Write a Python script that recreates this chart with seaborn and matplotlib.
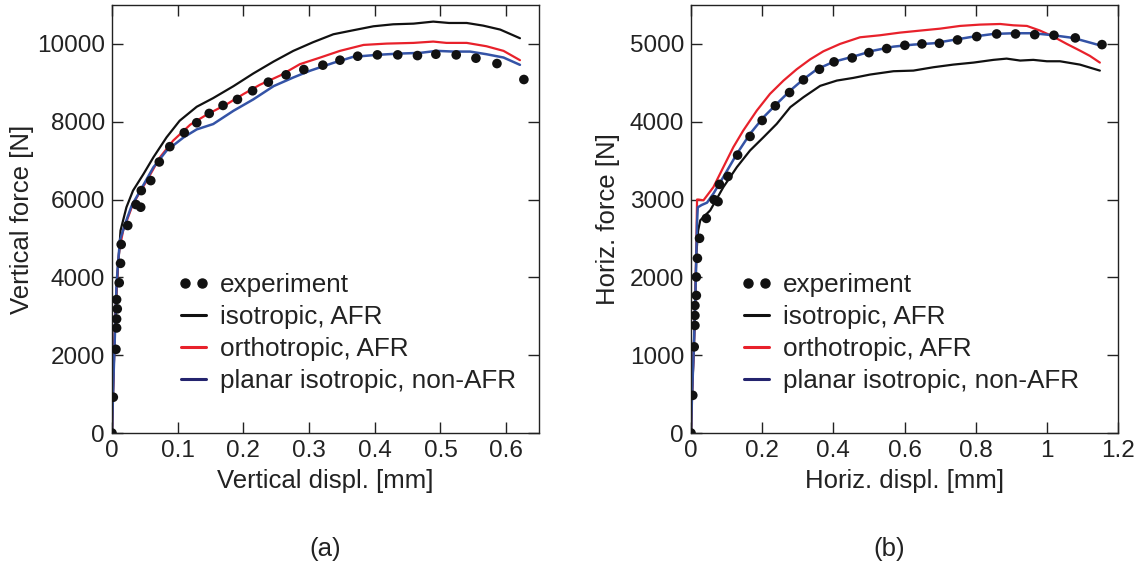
import numpy as np
import pandas as pd
import matplotlib
matplotlib.use("Agg")
import matplotlib.pyplot as plt
from matplotlib.lines import Line2D
from matplotlib.legend_handler import HandlerLine2D
import seaborn as sns

# ---------------- data: panel (a) vertical ----------------
a_exp_x = [0.0, 0.002, 0.006, 0.007, 0.007, 0.008, 0.007, 0.011, 0.013, 0.014, 0.024,
           0.0365, 0.0437, 0.0446, 0.059, 0.072, 0.088, 0.110, 0.129, 0.148, 0.169,
           0.191, 0.214, 0.238, 0.265, 0.292, 0.321, 0.347, 0.374, 0.404, 0.435,
           0.465, 0.493, 0.524, 0.554, 0.586, 0.627]
a_exp_y = [0, 920, 2150, 2700, 2930, 3190, 3430, 3860, 4360, 4846, 5333,
           5872, 5803, 6230, 6487, 6966, 7359, 7718, 7974, 8213, 8419,
           8573, 8795, 9017, 9205, 9341, 9454, 9582, 9684, 9718, 9718,
           9700, 9735, 9718, 9633, 9495, 9085]

a_iso_x = [0.0, 0.002, 0.005, 0.008, 0.011, 0.013, 0.022, 0.032, 0.048, 0.063, 0.083,
           0.103, 0.129, 0.154, 0.185, 0.215, 0.246, 0.276, 0.306, 0.337, 0.367,
           0.398, 0.428, 0.459, 0.489, 0.513, 0.540, 0.565, 0.591, 0.621]
a_iso_y = [0, 1300, 3000, 4000, 4700, 5205, 5803, 6230, 6658, 7085, 7598,
           8026, 8385, 8607, 8915, 9239, 9547, 9821, 10043, 10248, 10350,
           10453, 10504, 10521, 10573, 10538, 10538, 10470, 10368, 10146]

a_ort_x = [0.0, 0.002, 0.005, 0.008, 0.011, 0.017, 0.032, 0.053, 0.073, 0.093, 0.119,
           0.144, 0.175, 0.200, 0.225, 0.256, 0.286, 0.317, 0.347, 0.383, 0.418,
           0.459, 0.489, 0.509, 0.540, 0.570, 0.596, 0.621]
a_ort_y = [0, 1300, 3000, 4000, 4700, 5205, 5889, 6487, 7085, 7513, 7923,
           8180, 8453, 8710, 8949, 9188, 9479, 9650, 9821, 9974, 10008,
           10026, 10060, 10026, 10026, 9940, 9821, 9582]

a_pla_x = [0.0, 0.002, 0.007, 0.0096, 0.012, 0.020, 0.030, 0.043, 0.063, 0.083, 0.109,
           0.129, 0.154, 0.185, 0.215, 0.246, 0.276, 0.301, 0.337, 0.367, 0.403,
           0.438, 0.469, 0.494, 0.520, 0.545, 0.570, 0.596, 0.621]
a_pla_y = [0, 1273, 3838, 4436, 4949, 5376, 5846, 6230, 6829, 7256, 7598,
           7803, 7940, 8282, 8573, 8915, 9137, 9308, 9513, 9667, 9718,
           9752, 9769, 9821, 9803, 9803, 9735, 9650, 9462]

# ---------------- data: panel (b) horizontal ----------------
b_exp_x = [0.0, 0.005, 0.009, 0.011, 0.011, 0.011, 0.015, 0.015, 0.018, 0.024, 0.043,
           0.065, 0.076, 0.080, 0.104, 0.131, 0.166, 0.200, 0.237, 0.277, 0.316,
           0.361, 0.402, 0.453, 0.500, 0.550, 0.601, 0.649, 0.698, 0.749, 0.803,
           0.859, 0.912, 0.966, 1.020, 1.080, 1.155]
b_exp_y = [0, 484, 1107, 1382, 1510, 1638, 1767, 2005, 2245, 2502, 2758,
           2998, 2973, 3195, 3297, 3571, 3811, 4016, 4204, 4375, 4538,
           4674, 4769, 4820, 4888, 4940, 4982, 5000, 5008, 5051, 5094,
           5128, 5128, 5119, 5111, 5077, 4991]

b_iso_x = [0.0, 0.003, 0.008, 0.012, 0.015, 0.020, 0.026, 0.054, 0.091, 0.129, 0.166,
           0.204, 0.241, 0.279, 0.316, 0.363, 0.410, 0.456, 0.503, 0.569, 0.625,
           0.681, 0.737, 0.794, 0.850, 0.887, 0.925, 0.962, 1.000, 1.037, 1.093, 1.149]
b_iso_y = [0, 500, 1100, 1700, 2300, 2600, 2733, 2861, 3160, 3417, 3631,
           3802, 3973, 4187, 4315, 4461, 4529, 4563, 4606, 4649, 4657,
           4700, 4734, 4760, 4795, 4811, 4786, 4795, 4777, 4777, 4734, 4657]

b_ort_x = [0.0, 0.003, 0.008, 0.012, 0.015, 0.017, 0.021, 0.035, 0.063, 0.091, 0.119,
           0.147, 0.185, 0.222, 0.260, 0.297, 0.335, 0.372, 0.419, 0.475, 0.531,
           0.587, 0.644, 0.700, 0.756, 0.812, 0.869, 0.906, 0.944, 0.981, 1.018,
           1.056, 1.093, 1.121, 1.149]
b_ort_y = [0, 500, 1100, 1700, 2400, 3000, 3000, 2990, 3160, 3417, 3673,
           3888, 4144, 4358, 4529, 4674, 4802, 4905, 5000, 5085, 5111,
           5145, 5171, 5196, 5231, 5248, 5256, 5239, 5231, 5171, 5094,
           5000, 4914, 4846, 4760]

b_pla_x = [0.0, 0.003, 0.008, 0.012, 0.015, 0.017, 0.019, 0.030, 0.045, 0.063, 0.091,
           0.129, 0.166, 0.204, 0.241, 0.279, 0.316, 0.354, 0.400, 0.456, 0.513,
           0.569, 0.625, 0.681, 0.737, 0.794, 0.850, 0.906, 0.962, 1.018, 1.074, 1.149]
b_pla_y = [0, 500, 1100, 1700, 2300, 2700, 2900, 2930, 2960, 3076, 3290,
           3588, 3845, 4059, 4230, 4401, 4546, 4674, 4769, 4837, 4914,
           4965, 4991, 5008, 5051, 5094, 5128, 5137, 5137, 5111, 5077, 4982]

labels = ["experiment", "isotropic, AFR", "orthotropic, AFR", "planar isotropic, non-AFR"]
xlabels = ["Vertical displ. [mm]", "Horiz. displ. [mm]"]
ylabels = ["Vertical force [N]", "Horiz. force [N]"]
panel_tags = ["(a)", "(b)"]

# ---------------- style ----------------
sns.set_theme(style="ticks")
plt.rcParams["font.family"] = ["Liberation Sans", "DejaVu Sans"]
FS_TICK = 17.5
FS_LAB = 18.5
FS_LEG = 18.8
TXT = "#222222"
C_ISO = "#111111"
C_ORT = "#e8212b"
C_PLA = "#3453a6"
C_PLA_LEG = "#24246e"

fig = plt.figure(figsize=(11.38, 5.69), dpi=100)
W, H = 1138, 569
axA = fig.add_axes([112 / W, 1 - 433 / H, 427 / W, 428 / H])
axB = fig.add_axes([691 / W, 1 - 433 / H, 427 / W, 428 / H])

panels = [
    (axA, a_exp_x, a_exp_y, a_iso_x, a_iso_y, a_ort_x, a_ort_y, a_pla_x, a_pla_y,
     (0, 0.65), np.arange(0, 0.61, 0.1), ["0", "0.1", "0.2", "0.3", "0.4", "0.5", "0.6"],
     (0, 11000), np.arange(0, 10001, 2000)),
    (axB, b_exp_x, b_exp_y, b_iso_x, b_iso_y, b_ort_x, b_ort_y, b_pla_x, b_pla_y,
     (0, 1.2), np.arange(0, 1.21, 0.2), ["0", "0.2", "0.4", "0.6", "0.8", "1", "1.2"],
     (0, 5500), np.arange(0, 5001, 1000)),
]

leg_x_px = [181, 744]
ax_left_px = [112, 691]
ylabpad = [2, 7]

for i, (ax, ex, ey, ix, iy, ox, oy, px, py, xl, xt, xtl, yl, yt) in enumerate(panels):
    sns.lineplot(x=ix, y=iy, ax=ax, color=C_ISO, lw=1.6, sort=False, estimator=None)
    sns.lineplot(x=ox, y=oy, ax=ax, color=C_ORT, lw=1.6, sort=False, estimator=None)
    sns.lineplot(x=px, y=py, ax=ax, color=C_PLA, lw=1.8, sort=False, estimator=None)
    sns.scatterplot(x=ex, y=ey, ax=ax, color="#111111", s=48, edgecolor="none", zorder=5)

    ax.set_xlim(*xl)
    ax.set_ylim(*yl)
    ax.set_xticks(xt)
    ax.set_xticklabels(xtl)
    ax.set_yticks(yt)
    ax.set_yticklabels([str(int(v)) for v in yt])
    ax.tick_params(direction="in", length=8, width=1.0, top=True, right=True,
                   labelsize=FS_TICK, colors="#222222", pad=5)
    for sp in ax.spines.values():
        sp.set_visible(True)
        sp.set_linewidth(1.0)
        sp.set_color("#222222")
    ax.set_xlabel(xlabels[i], fontsize=FS_LAB, color=TXT, labelpad=5)
    ax.set_ylabel(ylabels[i], fontsize=FS_LAB, color=TXT, labelpad=ylabpad[i])

    h_exp = Line2D([], [], ls="none", marker="o", color="#111111", markersize=6.5)
    handles = [
        h_exp,
        Line2D([], [], color=C_ISO, lw=2.2),
        Line2D([], [], color=C_ORT, lw=2.2),
        Line2D([], [], color=C_PLA_LEG, lw=2.2),
    ]
    anchor_x = (leg_x_px[i] - ax_left_px[i]) / 427
    anchor_y = (433 - 273) / 428
    leg = ax.legend(handles, labels, loc="upper left",
                    bbox_to_anchor=(anchor_x, anchor_y),
                    frameon=False, fontsize=FS_LEG, numpoints=2, handlelength=0.95,
                    handletextpad=0.55, labelspacing=0.31, borderpad=0, borderaxespad=0,
                    handler_map={h_exp: HandlerLine2D(marker_pad=0.16, numpoints=2),
                                 Line2D: HandlerLine2D(marker_pad=0.0)})
    for t in leg.get_texts():
        t.set_color(TXT)

fig.text(325 / W, 1 - 549 / H, panel_tags[0], fontsize=FS_LAB, color=TXT, ha="center", va="center")
fig.text(889 / W, 1 - 549 / H, panel_tags[1], fontsize=FS_LAB, color=TXT, ha="center", va="center")

fig.savefig("out.png", dpi=100)
